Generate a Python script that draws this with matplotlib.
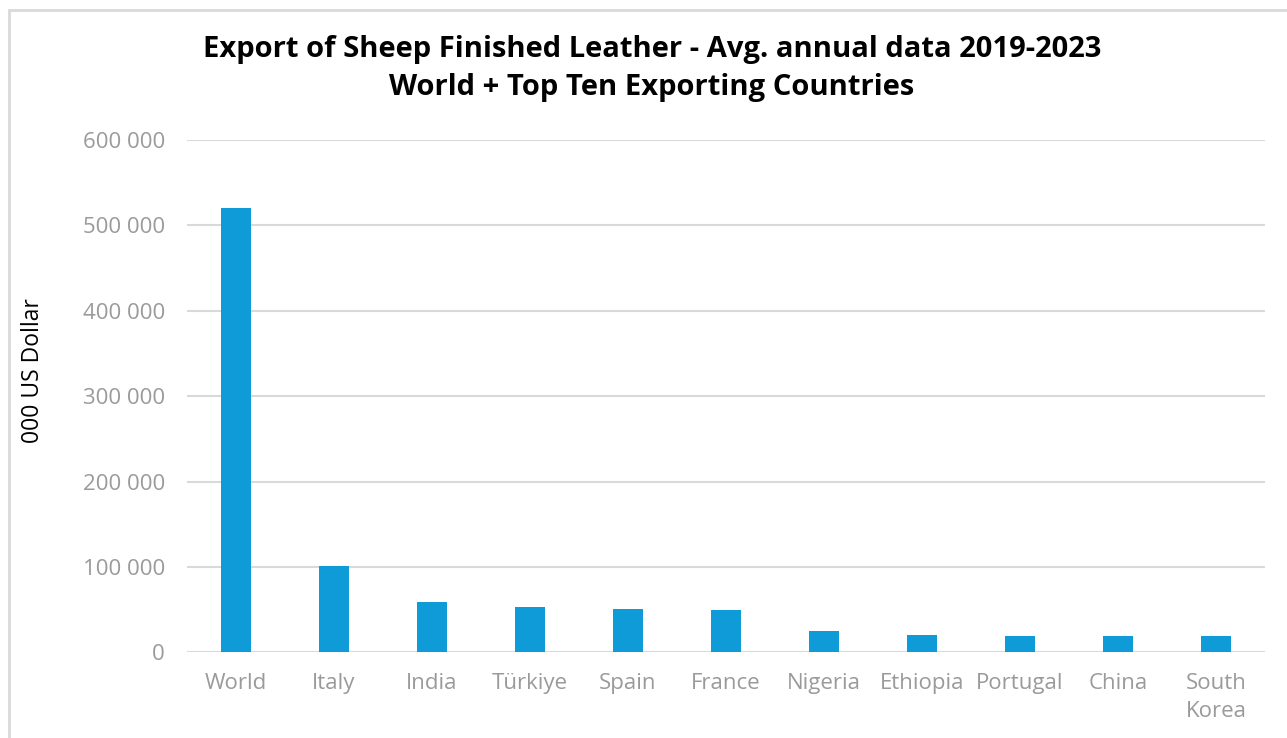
import matplotlib.pyplot as plt
from matplotlib.patches import Rectangle
from matplotlib.ticker import FuncFormatter

countries = ["World", "Italy", "India", "Türkiye", "Spain", "France", "Nigeria",
             "Ethiopia", "Portugal", "China", "South\nKorea"]
values = [520000, 101000, 58600, 53400, 50700, 49500, 25300, 20300, 19500, 19500, 19100]
yticks = [0, 100000, 200000, 300000, 400000, 500000, 600000]

bar_color = "#0E9BD7"
tick_color = "#9A9A9A"
grid_color = "#D9D9D9"

W, H = 1287, 738
fig = plt.figure(figsize=(W / 100, H / 100), dpi=100)
ax = fig.add_axes([187 / W, 1 - 652.3 / H, (1265 - 187) / W, (652.3 - 140) / H])

x = range(len(countries))
ax.bar(x, values, width=0.31, color=bar_color, zorder=3)
ax.set_xlim(-0.5, len(countries) - 0.5)
ax.set_ylim(0, 600000)
ax.set_yticks(yticks)
ax.yaxis.set_major_formatter(FuncFormatter(lambda v, p: f"{int(v):,}".replace(",", " ")))
ax.set_xticks(list(x))
ax.set_xticklabels(countries, linespacing=1.45)

ax.grid(axis="y", color=grid_color, linewidth=1.5, zorder=0)
for s in ["top", "right", "left", "bottom"]:
    ax.spines[s].set_visible(False)
ax.tick_params(axis="both", length=0, colors=tick_color, labelsize=16)
ax.tick_params(axis="y", pad=16)
ax.tick_params(axis="x", pad=15)
for lab in ax.get_xticklabels() + ax.get_yticklabels():
    lab.set_fontfamily("Open Sans")

fig.text(33 / W, 1 - 371 / H, "000 US Dollar", rotation=90, ha="center", va="center",
         fontsize=16.5, family="Open Sans")
fig.text(652 / W, 1 - 50 / H, "Export of Sheep Finished Leather - Avg. annual data 2019-2023",
         ha="center", va="center", fontsize=21, fontweight="bold", family="Open Sans")
fig.text(652 / W, 1 - 88 / H, "World + Top Ten Exporting Countries",
         ha="center", va="center", fontsize=21, fontweight="bold", family="Open Sans")

fig.patches.append(Rectangle((9 / W, -0.1), 1.2, 1.1 - 10 / H, transform=fig.transFigure,
                             fill=False, edgecolor="#D9D9D9", linewidth=2))

fig.savefig("out.png", dpi=100)
